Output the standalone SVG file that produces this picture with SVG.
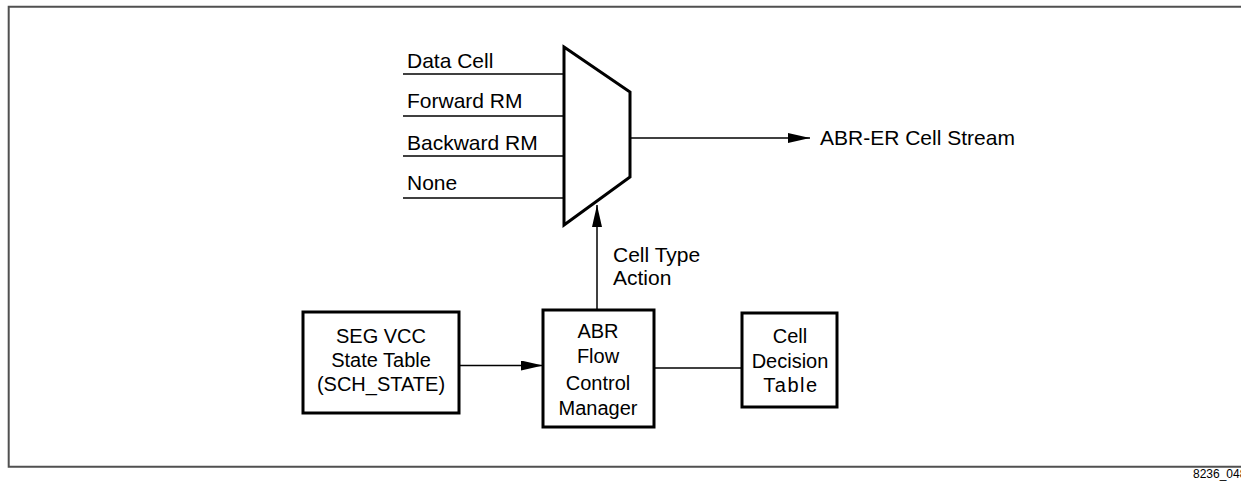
<svg xmlns="http://www.w3.org/2000/svg" width="1241" height="482" viewBox="0 0 1241 482">
<style>
  text { font-family: "Liberation Sans", Arial, sans-serif; font-size: 21px; fill: #000; }
  .bt { font-size: 20px; text-anchor: middle; }
  .box { fill: #fff; stroke: #000; stroke-width: 3; }
  .line { stroke: #000; stroke-width: 1.5; fill: none; }
  .frame { stroke: #505050; stroke-width: 2; fill: none; }
</style>
<defs>
  <marker id="arr" viewBox="0 0 22 10" refX="22" refY="5" markerWidth="22" markerHeight="10" markerUnits="userSpaceOnUse" orient="auto">
    <path d="M0,0 L22,5 L0,10 Z" fill="#000"/>
  </marker>
</defs>
<path class="frame" d="M1241,6.7 H8.7 V466.7 H1241"/>
<text x="1193" y="478" style="font-size:12px">8236_048</text>

<g id="mux">
  <path d="M564,47 L630,92 L630,177 L564,225 Z" fill="#fff" stroke="#000" stroke-width="3" stroke-linejoin="miter"/>
</g>
<g id="inputs">
  <text x="407" y="68">Data Cell</text>
  <text x="407" y="108">Forward RM</text>
  <text x="407" y="150">Backward RM</text>
  <text x="407" y="190">None</text>
</g>
<g id="output-label">
  <text x="820" y="145">ABR-ER Cell Stream</text>
</g>
<g id="seg">
  <rect class="box" x="303" y="312" width="156" height="101"/>
  <text class="bt" x="381" y="343">SEG VCC</text>
  <text class="bt" x="381" y="367">State Table</text>
  <text class="bt" x="381" y="391">(SCH_STATE)</text>
</g>
<g id="abr">
  <rect class="box" x="543" y="310" width="111" height="117"/>
  <text class="bt" x="598" y="338">ABR</text>
  <text class="bt" x="598" y="363">Flow</text>
  <text class="bt" x="598" y="390">Control</text>
  <text class="bt" x="598" y="415">Manager</text>
</g>
<g id="cdt">
  <rect class="box" x="742" y="313" width="95" height="94"/>
  <text class="bt" x="790" y="343">Cell</text>
  <text class="bt" x="790" y="368">Decision</text>
  <text class="bt" x="791" y="392" style="letter-spacing:1.5px">Table</text>
</g>
<g id="action-label">
  <text x="613" y="262">Cell Type</text>
  <text x="613" y="285">Action</text>
</g>
<g id="connectors">
  <line class="line" x1="403" y1="74" x2="564" y2="74"/>
  <line class="line" x1="403" y1="116" x2="564" y2="116"/>
  <line class="line" x1="403" y1="156" x2="564" y2="156"/>
  <line class="line" x1="403" y1="198" x2="564" y2="198"/>
  <line class="line" x1="630" y1="138" x2="810" y2="138" marker-end="url(#arr)"/>
  <line class="line" x1="597" y1="310" x2="597" y2="205" marker-end="url(#arr)"/>
  <line class="line" x1="459" y1="365.5" x2="543" y2="365.5" marker-end="url(#arr)"/>
  <line class="line" x1="654" y1="368" x2="742" y2="368"/>
</g>
</svg>
